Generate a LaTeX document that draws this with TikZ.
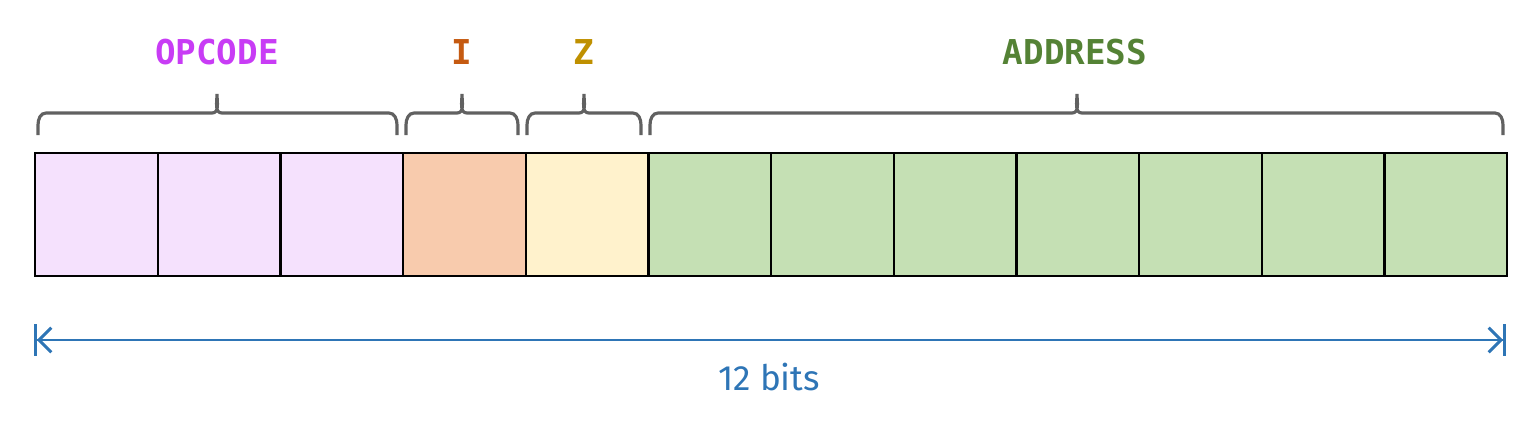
\documentclass[tikz,border=0pt]{standalone}
\usepackage{fontspec}
\setmainfont{Fira Sans}
\newfontfamily\labelfont{DejaVu Sans Mono}
\usetikzlibrary{arrows.meta,positioning}
\definecolor{opcol}{HTML}{C83CF5}
\definecolor{icol}{HTML}{C55A11}
\definecolor{zcol}{HTML}{BF9000}
\definecolor{adcol}{HTML}{548235}
\definecolor{opfill}{HTML}{F5E1FD}
\definecolor{ifill}{HTML}{F8CBAD}
\definecolor{zfill}{HTML}{FFF2CC}
\definecolor{adfill}{HTML}{C5E0B4}
\definecolor{bitcol}{HTML}{2E75B6}
\tikzset{
	bit/.style={
		rectangle,
		draw=black,
		line width=1.4pt,
		minimum width=2.453cm,
		minimum height=2.46cm,
		inner sep=0pt,
		anchor=north west
	},
	field/.style={
		font=\labelfont\bfseries\fontsize{19.5}{19.5}\selectfont
	},
	brace/.style={
		draw=black!62,
		line width=1.8pt
	}
}
\newcommand{\fieldbrace}[3]{%
	\draw[brace] (#1,135) -- (#1,125) to[out=90,in=180] (#1+8,113)
		-- (#3-5,113) to[out=0,in=-90] (#3,94)
		to[out=-90,in=180] (#3+5,113) -- (#2-8,113)
		to[out=0,in=90] (#2,125) -- (#2,135);}
\begin{document}
\begin{tikzpicture}[x=0.02cm,y=-0.02cm]
\useasboundingbox (0,0) rectangle (1536,440);
% register cells
\foreach \i/\col in {1/opfill,2/opfill,3/opfill,4/ifill,5/zfill,
	6/adfill,7/adfill,8/adfill,9/adfill,10/adfill,11/adfill,12/adfill}
	\node [bit, fill=\col] (c\i) at ({34+(\i-1)*122.67},152) {};
% braces
\fieldbrace{38}{397}{217}
\fieldbrace{406}{518}{462}
\fieldbrace{527}{641}{584}
\fieldbrace{650}{1503}{1077}
% field names
\node [field, text=opcol] (opcode) at (217,52) {OPCODE};
\node [field, text=icol] (ibit) at (462,52) {I};
\node [field, text=zcol] (zbit) at (584,52) {Z};
\node [field, text=adcol] (address) at (1075,52) {ADDRESS};
% width
\coordinate (left) at (34,340);
\coordinate (right) at (1506,340);
\draw [bitcol, line width=1.7pt, {Bar[width=18pt]Straight Barb[length=7pt,width=14pt]}-{Straight Barb[length=7pt,width=14pt]Bar[width=18pt]}]
	(left) -- (right);
\node [text=bitcol, font=\fontsize{20}{20}\selectfont] (bits) at (769,377) {12 bits};
\end{tikzpicture}
\end{document}
